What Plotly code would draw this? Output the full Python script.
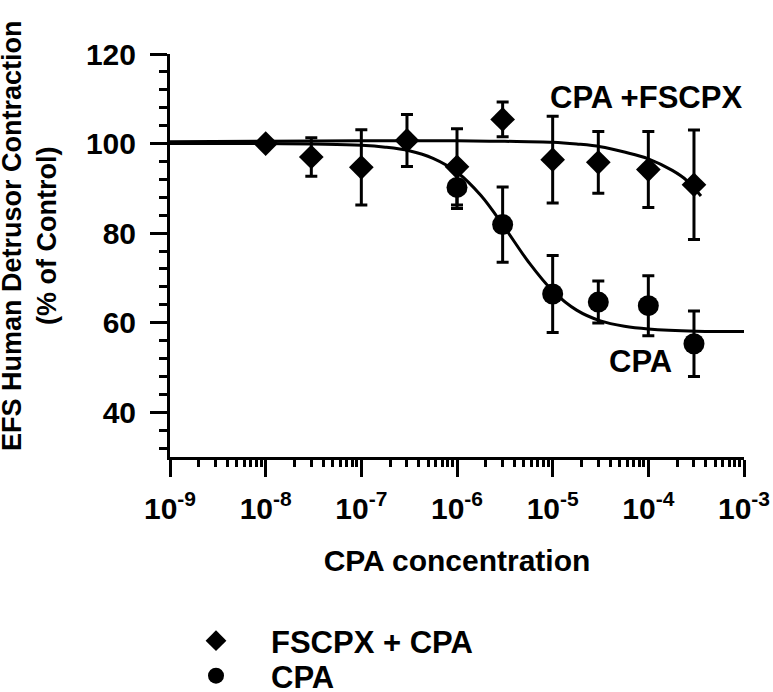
import plotly.graph_objects as go

# ---- data ----
conc = [1e-8, 3e-8, 1e-7, 3e-7, 1e-6, 3e-6, 1e-5, 3e-5, 1e-4, 3e-4]
fscpx_mean = [100.0, 97.0, 94.7, 100.7, 94.8, 105.4, 96.4, 95.8, 94.2, 90.8]
fscpx_err = [0.0, 4.3, 8.4, 5.8, 8.5, 3.9, 9.7, 6.9, 8.5, 12.2]

cpa_conc = [1e-6, 3e-6, 1e-5, 3e-5, 1e-4, 3e-4]
cpa_mean = [90.2, 81.9, 66.4, 64.6, 63.8, 55.3]
cpa_err = [4.7, 8.4, 8.6, 4.7, 6.7, 7.3]

# fitted curves
cpa_fit_x = [1e-9, 1e-8, 1e-7, 1.78e-7, 3.16e-7, 5.62e-7, 1e-6, 1.78e-6, 3.16e-6,
             5.62e-6, 1e-5, 1.78e-5, 3.16e-5, 5.62e-5, 1e-4, 3.16e-4, 1e-3]
cpa_fit_y = [100.0, 100.0, 99.6, 99.2, 98.4, 96.7, 93.6, 88.4, 81.2,
             73.5, 67.1, 62.8, 60.4, 59.2, 58.6, 58.1, 58.0]

fscpx_fit_x = [1e-9, 1e-8, 1e-7, 1e-6, 3.16e-6, 1e-5, 1.78e-5, 3.16e-5, 5.62e-5,
               1e-4, 1.78e-4, 2.51e-4, 3.55e-4]
fscpx_fit_y = [100.4, 100.5, 100.6, 100.6, 100.5, 100.3, 99.9, 99.3, 98.1,
               96.6, 94.0, 91.8, 88.3]

x_tickvals = [1e-9, 1e-8, 1e-7, 1e-6, 1e-5, 1e-4, 1e-3]
x_ticktext = ["10<sup>-9</sup>", "10<sup>-8</sup>", "10<sup>-7</sup>", "10<sup>-6</sup>",
              "10<sup>-5</sup>", "10<sup>-4</sup>", "10<sup>-3</sup>"]

FONT = "Liberation Sans, Arial, Helvetica, sans-serif"
BLACK = "black"
W, H = 773, 692
PL, PR, PT, PB = 170, 744, 54, 457   # plot-area edges in pixels

fig = go.Figure()

fig.add_trace(go.Scatter(x=fscpx_fit_x, y=fscpx_fit_y, mode="lines",
                         line=dict(color=BLACK, width=3, shape="spline"),
                         showlegend=False, hoverinfo="skip"))
fig.add_trace(go.Scatter(x=cpa_fit_x, y=cpa_fit_y, mode="lines",
                         line=dict(color=BLACK, width=3, shape="spline"),
                         showlegend=False, hoverinfo="skip"))

fig.add_trace(go.Scatter(x=conc, y=fscpx_mean, mode="markers", name="FSCPX + CPA",
                         legend="legend",
                         marker=dict(symbol="diamond", size=19, color=BLACK),
                         error_y=dict(type="data", array=fscpx_err, visible=True,
                                      color=BLACK, thickness=3, width=6)))
fig.add_trace(go.Scatter(x=cpa_conc, y=cpa_mean, mode="markers", name="CPA",
                         legend="legend2",
                         marker=dict(symbol="circle", size=21, color=BLACK),
                         error_y=dict(type="data", array=cpa_err, visible=True,
                                      color=BLACK, thickness=3, width=6)))

fig.add_annotation(x=-4.02, y=110.3, xref="x", yref="y", text="<b>CPA +FSCPX</b>",
                   showarrow=False, font=dict(size=31, color=BLACK, family=FONT))
fig.add_annotation(x=-4.08, y=51.3, xref="x", yref="y", text="<b>CPA</b>",
                   showarrow=False, font=dict(size=31, color=BLACK, family=FONT))
fig.add_annotation(x=(29 - PL) / (PR - PL), y=(PB - 236) / (PB - PT),
                   xref="paper", yref="paper",
                   text="<b>EFS Human Detrusor Contraction<br>(% of Control)</b>",
                   textangle=-90, showarrow=False, xanchor="center", yanchor="middle",
                   font=dict(size=27, color=BLACK, family=FONT))

fig.update_xaxes(type="log", range=[-9, -3], automargin=False,
                 tickmode="array", tickvals=x_tickvals, ticktext=x_ticktext,
                 showline=True, linewidth=3, linecolor=BLACK,
                 ticks="outside", ticklen=17, tickwidth=3, tickcolor=BLACK,
                 minor=dict(ticks="outside", dtick="D1", ticklen=7, tickwidth=2.5,
                            tickcolor=BLACK, showgrid=False),
                 showgrid=False, zeroline=False, ticklabelstandoff=6,
                 tickfont=dict(size=30, color=BLACK, family=FONT, weight="bold"),
                 title=dict(text="<b>CPA concentration</b>", standoff=26,
                            font=dict(size=30, color=BLACK, family=FONT)))
fig.update_yaxes(range=[30, 120], tick0=0, dtick=20, automargin=False,
                 showline=True, linewidth=3, linecolor=BLACK,
                 ticks="outside", ticklen=17, tickwidth=3, tickcolor=BLACK,
                 minor=dict(ticks="outside", dtick=4, tick0=0, ticklen=8, tickwidth=2.5,
                            tickcolor=BLACK, showgrid=False),
                 showgrid=False, zeroline=False, ticklabelstandoff=8,
                 tickfont=dict(size=30, color=BLACK, family=FONT, weight="bold"))

legend_common = dict(xref="paper", yref="container", xanchor="left", yanchor="middle",
                     itemwidth=100, bgcolor="rgba(0,0,0,0)",
                     font=dict(size=31, color=BLACK, family=FONT, weight="bold"))
fig.update_layout(width=W, height=H,
                  margin=dict(l=PL, r=W - PR, t=PT, b=H - PB),
                  paper_bgcolor="white", plot_bgcolor="white",
                  font=dict(family=FONT, color=BLACK),
                  legend=dict(x=(161 - PL) / (PR - PL), y=(H - 641) / H, **legend_common),
                  legend2=dict(x=(161 - PL) / (PR - PL), y=(H - 676) / H, **legend_common))

# remove the browser's default 8px page margin so the figure fills the window
fig.write_html("out.html", config={"displayModeBar": False},
               post_script="document.body.style.margin='0';document.body.style.overflow='hidden';")
